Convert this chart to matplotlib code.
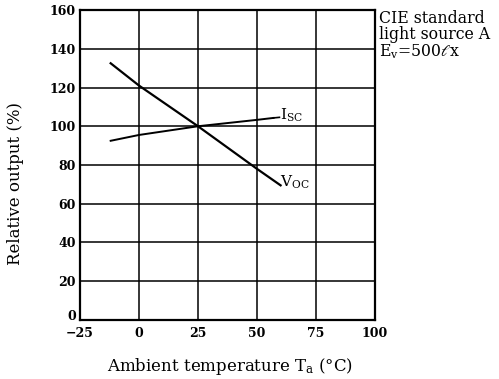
import matplotlib
matplotlib.use("Agg")
import matplotlib.pyplot as plt
import matplotlib.transforms as mtransforms

plt.rcParams['font.family'] = ['DejaVu Serif', 'DejaVu Sans']
plt.rcParams['mathtext.fontset'] = 'dejavuserif'

x_ticks = [-25, 0, 25, 50, 75, 100]
x_tick_labels = ['−25', '0', '25', '50', '75', '100']
y_ticks = [0, 20, 40, 60, 80, 100, 120, 140, 160]

isc_temp = [-12, 0, 25, 50, 57]
isc_vals = [92.5, 95.5, 100, 103.3, 104.3]

voc_temp = [-12, 0, 25, 50, 60]
voc_vals = [132.5, 121, 100, 78, 69.5]

fig = plt.figure(figsize=(4.99, 3.79), dpi=100)
ax = fig.add_axes([0.1603, 0.1557, 0.5912, 0.8179])

ax.plot(isc_temp, isc_vals, color='black', lw=1.4)
ax.plot(voc_temp, voc_vals, color='black', lw=1.6)
ax.plot([57, 59.5], [104.3, 104.6], color='black', lw=1.2)

ax.set_xlim(-25, 100)
ax.set_ylim(0, 160)
ax.set_xticks(x_ticks)
ax.set_xticklabels(x_tick_labels)
ax.set_yticks(y_ticks)
ax.grid(True, color='black', lw=1.1)
ax.tick_params(length=0, labelsize=9, pad=3)
ax.tick_params(axis='x', pad=5)
for lab in ax.get_xticklabels() + ax.get_yticklabels():
    lab.set_fontweight('bold')
# lift the bottom "0" slightly, as in the reference
ylabs = ax.get_yticklabels()
ylabs[0].set_transform(ylabs[0].get_transform() +
                       mtransforms.ScaledTranslation(0, 5 / 100, fig.dpi_scale_trans))
for s in ax.spines.values():
    s.set_linewidth(1.6)

ax.text(59.8, 105.5, r'I$_{\rm SC}$', fontsize=11, va='center', ha='left')
ax.text(59.8, 71, r'V$_{\rm OC}$', fontsize=11, va='center', ha='left')

ax.set_xlabel('Ambient temperature T$_{\\rm a}$ (°C)', fontsize=12)
ax.xaxis.set_label_coords(0.51, -0.115)
ax.set_ylabel('Relative output (%)', fontsize=12)
ax.yaxis.set_label_coords(-0.19, 0.44)

fig.text(0.759, 0.9736, 'CIE standard\nlight source A\nE$_{\\rm v}$=500$\\ell$x',
         fontsize=11.3, va='top', ha='left', linespacing=0.95)

fig.savefig('out.png', dpi=100)
